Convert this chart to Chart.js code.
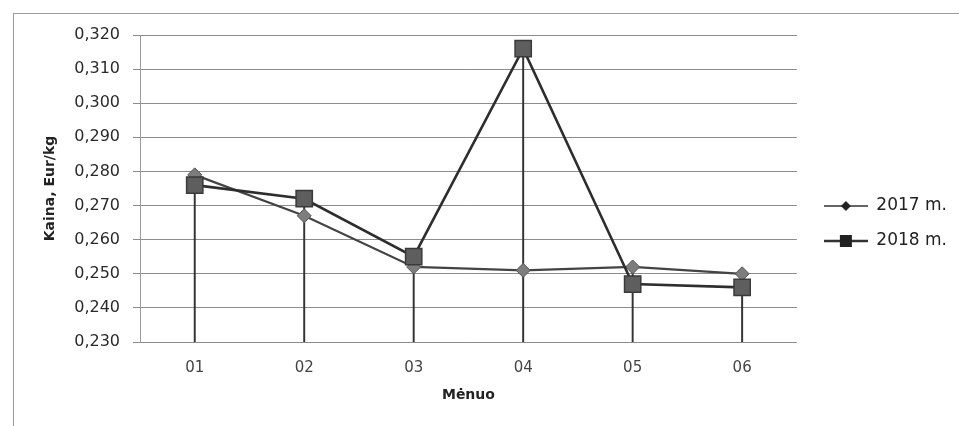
<!DOCTYPE html>
<html>
<head>
<meta charset="utf-8">
<script src="https://cdn.jsdelivr.net/npm/chart.js@4"></script>
<style>
html, body { margin: 0; padding: 0; background: #fff; }
#wrap { position: relative; width: 959px; height: 426px; overflow: hidden; }
#frame { position: absolute; left: 13px; top: 13px; width: 980px; height: 440px;
         border-top: 1px solid #9a9a9a; border-left: 1px solid #9a9a9a; }
canvas { position: absolute; left: 0; top: 0; }
</style>
</head>
<body>
<div id="wrap">
  <div id="frame"></div>
  <canvas id="priceChart" width="959" height="426"></canvas>
</div>
<script>
// Duomenys
const months = ['01', '02', '03', '04', '05', '06'];
const price2017 = [0.279, 0.267, 0.252, 0.251, 0.252, 0.250];
const price2018 = [0.276, 0.272, 0.255, 0.316, 0.247, 0.246];
const yTicks = [0.230, 0.240, 0.250, 0.260, 0.270, 0.280, 0.290, 0.300, 0.310, 0.320];

// vertikalios linijos nuo didesnės reikšmės iki ašies
const dropLines = months.map((m, i) => [yTicks[0], Math.max(price2017[i], price2018[i])]);

// legendos pavyzdžiai: linija su žymekliu
function legendSample(kind) {
    const c = document.createElement('canvas');
    c.width = 44; c.height = 16;
    const g = c.getContext('2d');
    g.strokeStyle = '#333';
    g.lineWidth = kind === 'square' ? 2.5 : 1.6;
    g.beginPath(); g.moveTo(0, 8); g.lineTo(44, 8); g.stroke();
    g.fillStyle = '#222';
    if (kind === 'square') {
        g.fillRect(16, 2, 12, 12);
    } else {
        g.beginPath();
        g.moveTo(22, 3); g.lineTo(27, 8); g.lineTo(22, 13); g.lineTo(17, 8);
        g.closePath(); g.fill();
    }
    return c;
}
const sample2017 = legendSample('diamond');
const sample2018 = legendSample('square');

const fixLegend = {
    id: 'fixLegend',
    afterLayout(chart) {
        const lg = chart.legend;
        lg.left += 9; lg.right += 9;
        lg.top += 2; lg.bottom += 2;
    }
};

const ctx = document.getElementById('priceChart').getContext('2d');
new Chart(ctx, {
    type: 'line',
    data: {
        labels: months,
        datasets: [{
            label: '2017 m.',
            data: price2017,
            borderColor: '#444',
            borderWidth: 2.2,
            pointStyle: 'rectRot',
            pointRadius: 7,
            pointBackgroundColor: '#7d7d7d',
            pointBorderColor: '#555',
            pointBorderWidth: 1,
            order: 2
        }, {
            label: '2018 m.',
            data: price2018,
            borderColor: '#2e2e2e',
            borderWidth: 2.6,
            pointStyle: 'rect',
            pointRadius: 11.5,
            pointBackgroundColor: '#5e5e5e',
            pointBorderColor: '#3a3a3a',
            pointBorderWidth: 1.5,
            order: 1
        }, {
            type: 'bar',
            label: 'drop',
            data: dropLines,
            backgroundColor: '#333',
            barThickness: 1.3,
            order: 3
        }]
    },
    options: {
        responsive: false,
        animation: false,
        layout: { padding: { left: 38, top: 35, right: 11, bottom: 18 } },
        plugins: {
            tooltip: { enabled: false },
            legend: {
                position: 'right',
                labels: {
                    usePointStyle: true,
                    pointStyleWidth: 44,
                    padding: 18,
                    color: '#222',
                    font: { family: 'DejaVu Sans', size: 17 },
                    generateLabels: chart => [0, 1].map(i => ({
                        text: chart.data.datasets[i].label,
                        datasetIndex: i,
                        pointStyle: i === 0 ? sample2017 : sample2018,
                        fontColor: '#222',
                        lineWidth: 0,
                        hidden: false
                    }))
                }
            }
        },
        scales: {
            x: {
                offset: true,
                grid: { display: false },
                border: { display: false },
                ticks: { color: '#444', padding: 9, font: { family: 'DejaVu Sans', size: 15 } },
                title: { display: true, text: 'Mėnuo', color: '#222', font: { family: 'DejaVu Sans', size: 14, weight: 'bold' } },
                afterFit: s => { s.height = 66; }
            },
            y: {
                min: yTicks[0],
                max: yTicks[yTicks.length - 1],
                ticks: {
                    stepSize: 0.01,
                    color: '#2a2a2a',
                    padding: 13,
                    font: { family: 'DejaVu Sans', size: 16 },
                    callback: v => v.toFixed(3).replace('.', ',')
                },
                grid: { color: '#8c8c8c', lineWidth: 1, tickLength: 7 },
                border: { color: '#9a9a9a' },
                title: { display: true, text: 'Kaina, Eur/kg', color: '#222', font: { family: 'DejaVu Sans', size: 14, weight: 'bold' } },
                afterFit: s => { s.width = 102; }
            }
        }
    },
    plugins: [fixLegend]
});
</script>
</body>
</html>
